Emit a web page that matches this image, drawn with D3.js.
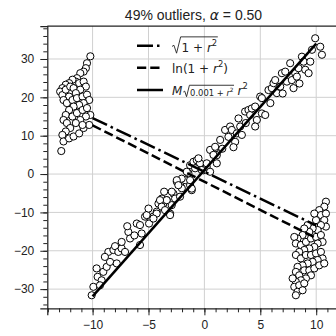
<!DOCTYPE html>
<html>
<head>
<meta charset="utf-8">
<script src="https://cdn.jsdelivr.net/npm/d3@7"></script>
<style>
  body { margin: 0; background: #fff; }
  svg { display: block; }
  text { font-family: "Liberation Sans", Arial, sans-serif; }
</style>
</head>
<body>
<div id="chart"></div>
<script>
// points, in data units
const inliers = [
  [-10.08, -31.6], [-9.93, -29.4], [-9.64, -24.6], [-9.55, -26.8], [-9.19, -27.7],
  [-9.04, -25.5], [-9.34, -29.0], [-8.74, -24.2], [-8.44, -22.9], [-7.84, -23.3],
  [-8.59, -20.3], [-8.14, -19.8], [-7.99, -18.8], [-7.70, -20.3], [-7.40, -19.4],
  [-7.40, -17.7], [-7.10, -20.3], [-6.80, -15.1], [-6.65, -16.8], [-6.26, -16.0],
  [-6.05, -12.9], [-5.76, -13.3], [-5.61, -15.5], [-5.76, -18.5], [-5.31, -11.1],
  [-5.16, -10.7], [-4.95, -12.9], [-4.56, -11.1], [-4.26, -9.8], [-4.11, -7.7],
  [-3.81, -6.4], [-3.67, -7.7], [-3.37, -6.8], [-3.07, -10.3], [-2.92, -8.1],
  [-2.77, -5.1], [-2.47, -2.0], [-2.17, -2.9], [-2.02, -3.7], [-1.72, -1.6],
  [-1.28, -2.9], [-1.13, -4.2], [-1.43, 0.2],
  [-1.28, 2.3], [-0.98, 3.2], [-0.68, 3.6], [-0.39, 2.8], [-0.83, 1.5],
  [-0.09, 1.0], [0.21, 1.9], [0.51, 0.6], [0.66, 6.2], [0.96, 6.7],
  [1.11, 4.9], [-1.58, 0.6], [-2.03, -1.2], [-2.47, -1.6], [-2.33, -2.9],
  [-1.28, -1.6], [-1.13, -3.8], [-2.92, -4.6], [-2.62, -6.4], [-2.18, -5.9],
  [-3.37, -6.8], [-3.97, -6.8], [-3.82, -8.5], [-3.52, -9.4], [-3.07, -10.7],
  [-4.27, -10.3], [-4.56, -11.6],
  [-0.53, 4.1], [-0.24, 1.05], [0.21, 2.8], [0.51, 6.3], [0.81, 5.0],
  [1.11, 2.8], [0.96, 7.1], [1.41, 8.9], [1.85, 11.5], [2.15, 9.7],
  [2.30, 12.4], [2.45, 11.5], [2.75, 8.4], [2.90, 10.6], [3.20, 12.4],
  [3.35, 10.2], [3.05, 14.5], [3.64, 16.3], [3.94, 16.7], [4.09, 15.4],
  [4.24, 17.1], [4.54, 17.6], [4.69, 14.1], [4.54, 12.4], [5.14, 15.8],
  [5.44, 15.4], [4.99, 20.2], [5.14, 19.8], [5.73, 21.9], [6.03, 22.4],
  [6.18, 23.7], [6.33, 24.5], [6.48, 21.1], [6.78, 22.8], [6.93, 26.3],
  [7.23, 26.7], [7.38, 24.1], [7.67, 28.9], [7.82, 24.5], [7.97, 22.4],
  [8.12, 26.3], [8.27, 25.4], [8.42, 27.6], [8.72, 30.6], [8.87, 29.3],
  [9.02, 27.2], [9.32, 26.3], [9.47, 29.3], [9.62, 32.4], [9.91, 35.4],
  [10.36, 33.2], [10.51, 31.1],
  [-8.9, -21.6], [-6.9, -13.6], [-5.0, -9.0], [-3.6, -4.6], [1.6, 6.6],
  [2.6, 7.0], [3.7, 13.3], [5.9, 18.5], [7.0, 21.0], [8.5, 23.6]
];

const outliersLeft = [
  [-10.2, 30.7], [-10.5, 28.9], [-10.6, 27.6], [-10.8, 26.7], [-11.1, 26.3],
  [-11.4, 25.0], [-11.5, 24.1], [-11.8, 24.6], [-12.1, 23.7], [-12.4, 23.3],
  [-12.7, 22.4], [-12.9, 21.5], [-12.7, 20.6], [-12.4, 22.0], [-12.0, 22.8],
  [-11.7, 22.4], [-11.2, 23.7], [-10.8, 24.1], [-10.6, 22.8], [-11.1, 22.0],
  [-11.5, 21.1], [-12.1, 20.2], [-12.6, 19.3], [-12.3, 18.5], [-11.8, 19.3],
  [-11.4, 19.8], [-10.9, 20.2], [-10.5, 20.7], [-10.3, 19.3], [-10.8, 18.5],
  [-11.2, 18.0], [-11.7, 17.6], [-12.1, 16.7], [-12.4, 15.4], [-12.6, 14.1],
  [-12.3, 13.3], [-11.8, 15.0], [-11.4, 15.9], [-10.9, 16.7], [-10.5, 17.2],
  [-10.2, 15.4], [-10.6, 15.0], [-11.1, 14.1], [-11.5, 13.3], [-12.0, 12.0],
  [-12.4, 11.1], [-12.7, 10.2], [-12.6, 8.5], [-12.1, 9.3], [-11.7, 9.8],
  [-11.2, 10.6], [-10.8, 12.0], [-10.3, 12.8], [-10.9, 12.8], [-12.8, 6.0]
];

const outliersRight = [
  [10.87, -7.2], [10.72, -8.5], [10.27, -9.4], [10.42, -10.7], [10.87, -10.3],
  [10.72, -12.0], [10.87, -13.7], [10.42, -13.3], [9.98, -12.0], [9.83, -10.3],
  [10.13, -14.6], [9.68, -14.2], [9.23, -13.3], [9.38, -15.1], [8.93, -14.2],
  [8.78, -15.9], [8.33, -16.8], [8.04, -16.4], [8.18, -18.1], [8.63, -18.5],
  [9.08, -17.7], [9.53, -16.8], [9.98, -16.4], [10.42, -15.9], [10.57, -17.7],
  [10.13, -18.1], [9.83, -19.0], [9.38, -19.4], [8.93, -19.8], [8.48, -20.3],
  [8.18, -21.1], [8.63, -22.0], [9.08, -21.1], [9.53, -21.1], [9.98, -20.7],
  [10.42, -20.3], [10.57, -22.0], [10.13, -22.4], [9.68, -22.9], [9.23, -23.3],
  [8.78, -23.8], [8.33, -24.2], [8.18, -25.5], [8.48, -26.4], [8.93, -25.1],
  [9.38, -25.1], [9.83, -24.6], [10.27, -23.8], [10.72, -23.3], [9.53, -26.4],
  [9.08, -27.2], [8.63, -27.7], [8.18, -28.1], [8.04, -29.4], [8.48, -29.0],
  [8.93, -28.5], [8.33, -30.7], [8.18, -31.6], [8.78, -30.3], [7.89, -27.2]
];

// fitted lines, endpoints at x = -10 and x = 10
const fitX = [-10, 10];
const fitSqrt = [14.6, -13.4];
const fitLog = [12.7, -16.7];
const fitM = [-31.9, 34.0];

const xTicks = [-10, -5, 0, 5, 10];
const yTicks = [-30, -20, -10, 0, 10, 20, 30];

const W = 336, H = 336;
const mathFont = "'DejaVu Sans', sans-serif";
const lw = 2.5;

const svg = d3.select("#chart").append("svg")
  .attr("width", W).attr("height", H);

const x = d3.scaleLinear().domain([-14.05, 12.1]).range([47.3, 339.7]);
const y = d3.scaleLinear().domain([-35, 38.6]).range([308.3, 26]);

svg.append("clipPath").attr("id", "clip")
  .append("rect")
  .attr("x", x.range()[0]).attr("y", y.range()[1])
  .attr("width", x.range()[1] - x.range()[0])
  .attr("height", y.range()[0] - y.range()[1]);

// grid
const grid = svg.append("g").attr("stroke", "#d0d0d0").attr("stroke-width", 1);
grid.selectAll("line.gx").data(xTicks).enter().append("line")
  .attr("x1", d => x(d)).attr("x2", d => x(d))
  .attr("y1", y.range()[0]).attr("y2", y.range()[1]);
grid.selectAll("line.gy").data(yTicks).enter().append("line")
  .attr("y1", d => y(d)).attr("y2", d => y(d))
  .attr("x1", x.range()[0]).attr("x2", x.range()[1]);

// points
const plot = svg.append("g").attr("clip-path", "url(#clip)");
plot.selectAll("circle")
  .data(inliers.concat(outliersLeft, outliersRight))
  .enter().append("circle")
  .attr("cx", d => x(d[0])).attr("cy", d => y(d[1]))
  .attr("r", 3.6)
  .attr("fill", "#fff").attr("stroke", "#000").attr("stroke-width", 1);

// fitted lines
const fits = [
  { ys: fitSqrt, dash: "16,4,2.5,4" },
  { ys: fitLog, dash: "9.25,4" },
  { ys: fitM, dash: null }
];
const line = d3.line().x(d => x(d[0])).y(d => y(d[1]));
fits.forEach(f => {
  plot.append("path")
    .attr("d", line(fitX.map((v, i) => [v, f.ys[i]])))
    .attr("fill", "none").attr("stroke", "#000")
    .attr("stroke-width", lw)
    .attr("stroke-dasharray", f.dash);
});

// axes
const fmt = d => d3.format("d")(d).replace("-", "\u2212");
svg.append("g").attr("transform", `translate(0,${y.range()[0]})`)
  .call(d3.axisBottom(x).tickValues(xTicks).tickSize(7).tickPadding(5).tickFormat(fmt));
svg.append("g").attr("transform", `translate(0,${y.range()[0]})`)
  .call(d3.axisBottom(x).tickValues(d3.range(-14, 13, 1)).tickSize(4).tickFormat(""))
  .call(g => g.select(".domain").remove())
  .call(g => g.selectAll(".tick text").remove());

svg.append("g").attr("transform", `translate(${x.range()[0]},0)`)
  .call(d3.axisLeft(y).tickValues(yTicks).tickSize(7).tickPadding(6).tickFormat(fmt));
svg.append("g").attr("transform", `translate(${x.range()[0]},0)`)
  .call(d3.axisLeft(y).tickValues(d3.range(-34, 39, 2)).tickSize(4).tickFormat(""))
  .call(g => g.select(".domain").remove())
  .call(g => g.selectAll(".tick text").remove());

svg.selectAll(".tick text")
  .style("font-family", "'Liberation Sans', Arial, sans-serif")
  .style("font-size", "12px").attr("fill", "#222");
svg.selectAll(".tick line").attr("stroke", "#222").attr("stroke-width", 1);
svg.selectAll(".domain").attr("stroke", "#222").attr("stroke-width", 1.25);

// top spine
svg.append("line")
  .attr("x1", x.range()[0]).attr("x2", x.range()[1])
  .attr("y1", y.range()[1]).attr("y2", y.range()[1])
  .attr("stroke", "#222").attr("stroke-width", 1.25);

// title
const title = svg.append("text")
  .attr("x", (x.range()[0] + x.range()[1]) / 2).attr("y", 19.5)
  .attr("text-anchor", "middle")
  .style("font-size", "14px").attr("fill", "#222");
title.append("tspan").text("49% outliers, ");
title.append("tspan").style("font-family", mathFont).style("font-style", "italic").text("\u03b1");
title.append("tspan").text(" = 0.50");

// legend math helpers
function addParts(t, size, parts) {
  let shift = 0;
  parts.forEach(p => {
    const s = t.append("tspan").text(p.t);
    if (p.sup) {
      s.attr("dy", -0.42 * size - shift).style("font-size", (0.7 * size) + "px");
      shift = -0.42 * size;
    } else {
      if (shift) s.attr("dy", -shift);
      shift = 0;
      if (p.it) s.style("font-style", "italic");
    }
  });
}
function mathText(g, x0, base, size, parts) {
  const t = g.append("text").attr("x", x0).attr("y", base)
    .style("font-family", mathFont).style("font-size", size + "px").attr("fill", "#222");
  addParts(t, size, parts);
  return t.node().getComputedTextLength();
}
function radical(g, x0, base, size, parts) {
  const rw = 0.8 * size;
  const w = mathText(g, x0 + rw, base, size, parts);
  const top = base - 1.22 * size;
  const p = d3.path();
  p.moveTo(x0, base - 0.42 * size);
  p.lineTo(x0 + 0.16 * size, base - 0.52 * size);
  p.lineTo(x0 + 0.38 * size, base + 0.14 * size);
  p.lineTo(x0 + 0.72 * size, top);
  p.lineTo(x0 + rw + w + 0.05 * size, top);
  g.append("path").attr("d", p.toString()).attr("fill", "none")
    .attr("stroke", "#222").attr("stroke-width", 0.9);
  return rw + w;
}

// legend
const legend = svg.append("g");
const rows = [
  { dash: "16,4,2.5,4", ly: 45.7 },
  { dash: "9.25,4", ly: 67.7 },
  { dash: null, ly: 90 }
];
rows.forEach(r => {
  legend.append("line")
    .attr("x1", 137).attr("x2", 163).attr("y1", r.ly).attr("y2", r.ly)
    .attr("stroke", "#000").attr("stroke-width", lw)
    .attr("stroke-dasharray", r.dash);
});
const fs = 12;
radical(legend, 172, 51.5, fs, [{ t: "1 + " }, { t: "r", it: true }, { t: "2", sup: true }]);
mathText(legend, 172, 72.5, fs, [{ t: "ln(1 + " }, { t: "r", it: true }, { t: "2", sup: true }, { t: ")" }]);
const mw = mathText(legend, 172, 94.5, fs, [{ t: "M", it: true }]);
const rw = radical(legend, 172 + mw + 1, 95.5, 8.4, [{ t: "0.001 + " }, { t: "r", it: true }, { t: "2", sup: true }]);
mathText(legend, 172 + mw + 1 + rw + 4, 94.5, fs, [{ t: "r", it: true }, { t: "2", sup: true }]);
</script>
</body>
</html>
